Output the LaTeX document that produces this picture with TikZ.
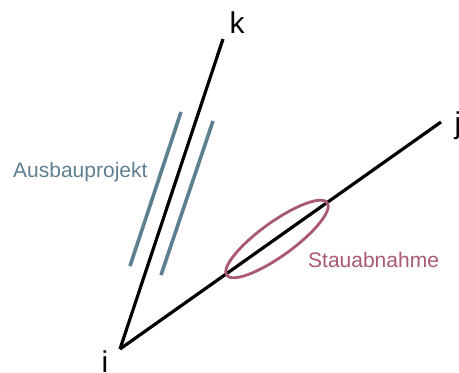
\documentclass[tikz,border=0pt]{standalone}
\usepackage{fontspec}
\setmainfont{Liberation Sans}
\definecolor{projblue}{RGB}{94,126,145}
\definecolor{staured}{RGB}{168,88,112}
\begin{document}
\begin{tikzpicture}[x=1pt,y=-1pt,
  edge/.style={line width=3.2pt,black},
  proj/.style={line width=3.6pt,projblue},
  vlabel/.style={font=\fontsize{30}{30}\selectfont,inner sep=0pt}]
\useasboundingbox (0,0) rectangle (459,373);
\coordinate (i) at (120,349);
\coordinate (k) at (223,39);
\coordinate (j) at (441,122);
\draw[edge] (i) -- (k);
\draw[edge] (i) -- (j);
\coordinate (p1a) at (181,112);
\coordinate (p1b) at (130,266);
\coordinate (p2a) at (213,121);
\coordinate (p2b) at (161,275);
\draw[proj] (p1a) -- (p1b);
\draw[proj] (p2a) -- (p2b);
\draw[staured,line width=2.8pt,rotate around={35.8:(277,239)}] (277,239) ellipse [x radius=62, y radius=17];
\node[vlabel,anchor=base] (lk) at (237,33) {k};
\node[vlabel,anchor=base] (lj) at (458,133) {j};
\node[vlabel,anchor=base] (li) at (105,372) {i};
\node[font=\fontsize{21}{21}\selectfont,text=projblue,anchor=base west,inner sep=0pt] (lp) at (13,177) {Ausbauprojekt};
\node[font=\fontsize{21}{21}\selectfont,text=staured,anchor=base west,inner sep=0pt] (ls) at (308,267) {Stauabnahme};
\end{tikzpicture}
\end{document}
